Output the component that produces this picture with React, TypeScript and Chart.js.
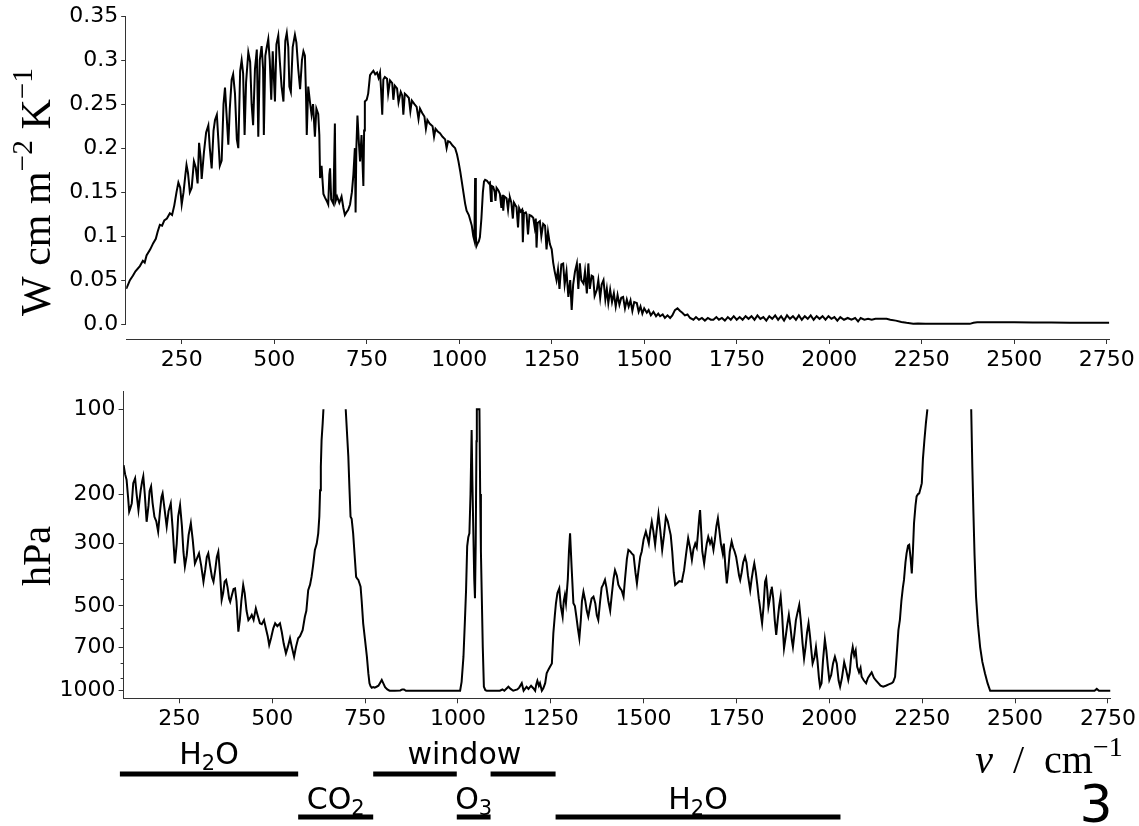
import React, { useEffect, useRef } from 'react';
import { Chart, registerables } from 'chart.js';

Chart.register(...registerables);

// ---------------- data ----------------
const X_MIN = 100;
const X_MAX = 2757;
const xTicks = [250, 500, 750, 1000, 1250, 1500, 1750, 2000, 2250, 2500, 2750];

const topYMin = -0.0169;
const topYMax = 0.35;
const topYTicks = [0, 0.05, 0.1, 0.15, 0.2, 0.25, 0.3, 0.35];
const topYTickLabels = ['0.0', '0.05', '0.1', '0.15', '0.2', '0.25', '0.3', '0.35'];

const bottomYMin = 86.6;
const bottomYMax = 1064;
const bottomYTicks = [100, 200, 300, 500, 700, 1000];
const bottomYMinorTicks = [400, 600, 800, 900];

// radiance spectrum (top panel)
const topNu = [
  100, 105, 110, 118, 125, 137, 145, 150, 155, 165, 173, 180, 185, 191, 197, 203, 210, 218, 224, 230,
  236, 241, 246, 250, 255, 260, 263, 267, 272, 277, 283, 288, 293, 297, 301, 304, 310, 316, 322, 326,
  331, 336, 340, 345, 349, 353, 358, 363, 367, 371, 376, 380, 385, 389, 394, 399, 403, 408, 412, 416,
  420, 424, 430, 435, 439, 443, 448, 453, 457, 461, 466, 470, 472, 476, 480, 484, 488, 492, 496, 502,
  506, 511, 515, 520, 525, 530, 534, 538, 541, 545, 550, 556, 560, 565, 570, 575, 579, 583, 586, 588,
  592, 596, 601, 605, 610, 614, 619, 622, 624, 628, 633, 637, 642, 646, 649, 651, 654, 660, 664, 666,
  670, 676, 682, 687, 691, 695, 700, 705, 710, 714, 718, 720, 722, 725, 729, 732, 736, 741, 743, 745,
  750, 754, 759, 764, 768, 773, 778, 782, 786, 789, 792, 795, 799, 805, 808, 813, 819, 822, 826, 832,
  836, 842, 846, 849, 853, 858, 864, 868, 872, 879, 885, 890, 894, 900, 906, 910, 914, 920, 928, 932,
  936, 942, 948, 955, 962, 966, 970, 975, 982, 989, 994, 998, 1003, 1007, 1012, 1016, 1020, 1026, 1030, 1034,
  1038, 1041, 1043, 1045, 1047, 1050, 1053, 1056, 1060, 1064, 1067, 1070, 1075, 1080, 1083, 1086, 1088, 1092, 1096, 1098,
  1101, 1106, 1110, 1114, 1117, 1119, 1122, 1128, 1132, 1135, 1137, 1141, 1145, 1148, 1152, 1155, 1159, 1162, 1166, 1170,
  1172, 1175, 1180, 1182, 1186, 1190, 1195, 1200, 1204, 1207, 1209, 1212, 1218, 1222, 1227, 1232, 1236, 1240, 1245, 1250,
  1254, 1258, 1263, 1267, 1271, 1276, 1281, 1285, 1290, 1295, 1300, 1304, 1308, 1313, 1318, 1322, 1326, 1330, 1336, 1340,
  1345, 1349, 1353, 1358, 1362, 1366, 1372, 1376, 1381, 1385, 1390, 1395, 1399, 1403, 1408, 1413, 1418, 1423, 1428, 1433,
  1438, 1443, 1448, 1453, 1458, 1463, 1468, 1473, 1480, 1485, 1490, 1495, 1500, 1507, 1512, 1518, 1525, 1532, 1538, 1543,
  1550, 1556, 1563, 1570, 1576, 1583, 1590, 1597, 1603, 1610, 1617, 1624, 1633, 1640, 1648, 1656, 1664, 1672, 1680, 1687,
  1695, 1702, 1710, 1718, 1726, 1734, 1742, 1750, 1758, 1766, 1774, 1782, 1790, 1798, 1806, 1814, 1822, 1830, 1838, 1846,
  1854, 1862, 1870, 1878, 1886, 1894, 1902, 1910, 1918, 1926, 1934, 1942, 1950, 1958, 1966, 1974, 1982, 1990, 1998, 2006,
  2014, 2022, 2030, 2040, 2050, 2060, 2070, 2078, 2085, 2095, 2105, 2115, 2125, 2140, 2155, 2165, 2180, 2195, 2209, 2227,
  2240, 2260, 2300, 2340, 2380, 2390, 2400, 2450, 2500, 2550, 2600, 2650, 2700, 2757,
];
const topRad = [
  0.040, 0.045, 0.050, 0.055, 0.060, 0.066, 0.072, 0.070, 0.078, 0.085, 0.092, 0.097, 0.105, 0.113, 0.112, 0.118, 0.120, 0.126, 0.124, 0.135,
  0.150, 0.161, 0.155, 0.136, 0.150, 0.170, 0.181, 0.172, 0.150, 0.155, 0.185, 0.178, 0.160, 0.206, 0.190, 0.165, 0.195, 0.218, 0.226, 0.200,
  0.177, 0.220, 0.232, 0.238, 0.210, 0.180, 0.186, 0.250, 0.269, 0.240, 0.204, 0.245, 0.278, 0.284, 0.262, 0.210, 0.200, 0.288, 0.300, 0.285,
  0.215, 0.275, 0.309, 0.298, 0.250, 0.226, 0.290, 0.312, 0.213, 0.300, 0.316, 0.290, 0.215, 0.305, 0.315, 0.324, 0.300, 0.255, 0.310, 0.253,
  0.318, 0.328, 0.300, 0.270, 0.253, 0.322, 0.331, 0.315, 0.270, 0.264, 0.315, 0.329, 0.320, 0.290, 0.267, 0.300, 0.310, 0.305, 0.260, 0.215,
  0.270, 0.255, 0.238, 0.250, 0.213, 0.245, 0.239, 0.215, 0.166, 0.180, 0.148, 0.144, 0.140, 0.136, 0.170, 0.177, 0.142, 0.137, 0.228, 0.140,
  0.145, 0.138, 0.145, 0.132, 0.124, 0.127, 0.130, 0.136, 0.150, 0.170, 0.200, 0.127, 0.200, 0.237, 0.205, 0.185, 0.215, 0.157, 0.220, 0.253,
  0.255, 0.262, 0.283, 0.286, 0.288, 0.284, 0.286, 0.280, 0.286, 0.265, 0.238, 0.278, 0.281, 0.279, 0.262, 0.277, 0.274, 0.255, 0.271, 0.268,
  0.252, 0.264, 0.260, 0.238, 0.262, 0.260, 0.257, 0.242, 0.254, 0.250, 0.247, 0.233, 0.245, 0.240, 0.236, 0.222, 0.232, 0.228, 0.225, 0.213,
  0.222, 0.219, 0.217, 0.213, 0.210, 0.200, 0.208, 0.207, 0.203, 0.200, 0.193, 0.185, 0.173, 0.162, 0.148, 0.137, 0.129, 0.124, 0.118, 0.112,
  0.100, 0.095, 0.166, 0.100, 0.089, 0.092, 0.094, 0.099, 0.120, 0.150, 0.162, 0.164, 0.163, 0.160, 0.161, 0.140, 0.157, 0.156, 0.150, 0.140,
  0.155, 0.152, 0.148, 0.132, 0.147, 0.129, 0.145, 0.143, 0.130, 0.142, 0.144, 0.138, 0.120, 0.138, 0.135, 0.133, 0.110, 0.132, 0.128, 0.130,
  0.093, 0.126, 0.127, 0.125, 0.102, 0.124, 0.123, 0.121, 0.110, 0.120, 0.087, 0.115, 0.117, 0.100, 0.114, 0.112, 0.085, 0.105, 0.091, 0.085,
  0.070, 0.060, 0.050, 0.062, 0.040, 0.068, 0.069, 0.045, 0.060, 0.031, 0.050, 0.016, 0.045, 0.060, 0.069, 0.040, 0.069, 0.050, 0.046, 0.060,
  0.035, 0.069, 0.040, 0.055, 0.054, 0.032, 0.039, 0.050, 0.030, 0.045, 0.050, 0.028, 0.040, 0.024, 0.039, 0.025, 0.035, 0.020, 0.033, 0.022,
  0.030, 0.031, 0.018, 0.028, 0.020, 0.027, 0.015, 0.025, 0.024, 0.014, 0.020, 0.012, 0.018, 0.013, 0.016, 0.010, 0.014, 0.009, 0.012, 0.009,
  0.011, 0.007, 0.010, 0.007, 0.010, 0.016, 0.018, 0.015, 0.013, 0.010, 0.011, 0.007, 0.005, 0.008, 0.005, 0.007, 0.004, 0.007, 0.005, 0.005,
  0.008, 0.005, 0.007, 0.004, 0.008, 0.005, 0.009, 0.005, 0.008, 0.005, 0.009, 0.006, 0.009, 0.005, 0.010, 0.006, 0.008, 0.004, 0.009, 0.006,
  0.010, 0.005, 0.009, 0.004, 0.010, 0.006, 0.009, 0.005, 0.010, 0.005, 0.009, 0.006, 0.010, 0.005, 0.009, 0.006, 0.009, 0.005, 0.009, 0.006,
  0.008, 0.004, 0.008, 0.005, 0.007, 0.005, 0.007, 0.003, 0.007, 0.005, 0.006, 0.005, 0.006, 0.006, 0.006, 0.005, 0.004, 0.0025, 0.0015, 0.0005,
  0.0008, 0.0003, 0.0003, 0.0003, 0.0003, 0.0015, 0.002, 0.002, 0.002, 0.0018, 0.0018, 0.0015, 0.0015, 0.0015,
];

// emission level (bottom panel); null = above 100 hPa (not drawn)
const bottomNu = [
  100, 104, 108, 112, 115, 118, 122, 126, 131, 135, 140, 143, 146, 150, 153, 157, 162, 167, 170, 174,
  178, 183, 188, 193, 198, 202, 205, 210, 216, 221, 227, 232, 238, 243, 247, 252, 257, 261, 265, 270,
  275, 281, 286, 292, 297, 303, 309, 315, 320, 324, 328, 333, 338, 342, 347, 351, 355, 360, 364, 368,
  372, 376, 380, 384, 387, 392, 396, 400, 404, 409, 413, 417, 422, 426, 431, 436, 441, 445, 450, 456,
  461, 467, 472, 478, 483, 488, 492, 497, 503, 508, 514, 521, 526, 531, 537, 542, 548, 553, 559, 564,
  570, 575, 582, 588, 592, 597, 602, 606, 610, 615, 620, 624, 627, 629, 631, 633, 636, 638, 640, 698,
  702, 705, 708, 711, 714, 718, 722, 726, 729, 732, 735, 738, 741, 745, 750, 755, 759, 762, 765, 768,
  772, 776, 781, 786, 790, 795, 799, 804, 810, 816, 830, 845, 850, 855, 860, 900, 950, 1000, 1006, 1010,
  1015, 1019, 1022, 1025, 1028, 1031, 1034, 1037, 1039, 1042, 1044, 1046, 1048, 1050, 1051, 1058, 1060, 1062, 1064, 1067,
  1070, 1074, 1078, 1100, 1113, 1120, 1125, 1136, 1142, 1149, 1160, 1165, 1172, 1177, 1185, 1190, 1197, 1203, 1208, 1211,
  1214, 1218, 1221, 1226, 1230, 1235, 1239, 1244, 1248, 1253, 1257, 1261, 1264, 1268, 1273, 1277, 1282, 1285, 1288, 1291,
  1296, 1299, 1302, 1306, 1311, 1315, 1319, 1323, 1327, 1331, 1334, 1338, 1343, 1347, 1351, 1356, 1360, 1365, 1370, 1374,
  1378, 1383, 1387, 1391, 1396, 1400, 1405, 1410, 1414, 1419, 1423, 1428, 1432, 1437, 1441, 1446, 1450, 1455, 1459, 1464,
  1468, 1473, 1478, 1482, 1486, 1491, 1495, 1500, 1506, 1510, 1514, 1518, 1522, 1526, 1531, 1535, 1540, 1545, 1550, 1555,
  1560, 1565, 1569, 1573, 1577, 1581, 1585, 1590, 1596, 1603, 1606, 1609, 1614, 1620, 1625, 1630, 1634, 1639, 1643, 1647,
  1650, 1652, 1655, 1658, 1663, 1667, 1670, 1674, 1679, 1683, 1688, 1692, 1696, 1700, 1704, 1708, 1713, 1716, 1720, 1724,
  1728, 1732, 1737, 1741, 1745, 1749, 1753, 1757, 1760, 1764, 1768, 1773, 1777, 1781, 1787, 1791, 1795, 1798, 1802, 1806,
  1810, 1812, 1816, 1819, 1823, 1827, 1830, 1833, 1836, 1840, 1843, 1845, 1849, 1853, 1857, 1861, 1865, 1869, 1873, 1876,
  1878, 1882, 1887, 1891, 1895, 1899, 1902, 1906, 1910, 1914, 1919, 1923, 1928, 1932, 1936, 1940, 1944, 1948, 1952, 1955,
  1960, 1964, 1968, 1972, 1975, 1979, 1983, 1988, 1992, 1996, 2000, 2005, 2010, 2015, 2020, 2025, 2029, 2034, 2040, 2045,
  2051, 2055, 2059, 2063, 2067, 2071, 2075, 2080, 2084, 2087, 2093, 2099, 2104, 2109, 2114, 2120, 2126, 2132, 2138, 2145,
  2152, 2160, 2168, 2172, 2177, 2181, 2186, 2190, 2194, 2198, 2201, 2205, 2208, 2212, 2215, 2219, 2222, 2225, 2228, 2232,
  2235, 2239, 2242, 2246, 2249, 2252, 2256, 2260, 2264, 2300, 2382, 2385, 2388, 2391, 2395, 2400, 2406, 2412, 2419, 2426,
  2433, 2500, 2600, 2700, 2714, 2720, 2726, 2757,
];
const bottomP = [
  158, 170, 178, 205, 231, 225, 216, 183, 176, 200, 228, 210, 194, 180, 173, 200, 251, 220, 195, 188,
  215, 241, 250, 272, 230, 205, 199, 225, 261, 230, 216, 265, 353, 300, 240, 219, 260, 320, 362, 330,
  280, 254, 290, 353, 340, 325, 360, 410, 370, 335, 325, 360, 395, 410, 370, 335, 321, 390, 476, 450,
  410, 404, 430, 470, 483, 455, 435, 433, 480, 617, 560, 480, 421, 450, 520, 561, 550, 538, 560, 510,
  540, 576, 580, 561, 600, 640, 688, 650, 600, 576, 590, 576, 620, 680, 736, 700, 651, 700, 757, 700,
  651, 640, 609, 546, 520, 439, 420, 394, 360, 316, 300, 276, 240, 194, 160, 129, 112, 100, null, 100,
  125, 147, 190, 241, 245, 276, 330, 394, 400, 404, 415, 427, 480, 576, 660, 757, 870, 941, 965, 976,
  970, 975, 968, 960, 940, 916, 940, 972, 990, 1000, 1000, 998, 990, 990, 1000, 1000, 1000, 1000, 1000, 930,
  757, 560, 439, 307, 285, 276, 200, 118.5, 180, 291, 400, 469, 300, 130, 100, 100, 200, 320, 439, 700,
  968, 995, 1000, 1000, 1000, 990, 1000, 968, 985, 1000, 990, 975, 940, 1000, 968, 985, 960, 980, 1000, 950,
  922, 960, 940, 1000, 980, 940, 867, 840, 822, 800, 625, 540, 489, 450, 433, 500, 546, 480, 457, 489,
  400, 320, 276, 360, 489, 500, 546, 600, 651, 560, 480, 445, 480, 520, 546, 500, 470, 463, 490, 540,
  561, 480, 430, 420, 404, 430, 480, 519, 460, 400, 373, 390, 420, 433, 440, 463, 400, 340, 316, 320,
  325, 330, 380, 416, 375, 334, 320, 290, 272, 285, 300, 270, 251, 270, 303, 270, 236, 270, 316, 280,
  241, 250, 265, 280, 320, 380, 421, 415, 408, 410, 390, 373, 330, 287, 310, 343, 315, 300, 310, 270,
  240, 228, 270, 320, 353, 320, 300, 284, 300, 290, 316, 290, 260, 244, 270, 300, 325, 300, 360, 416,
  370, 320, 295, 310, 320, 334, 360, 390, 404, 380, 350, 334, 350, 390, 439, 400, 370, 353, 380, 420,
  470, 489, 540, 576, 500, 410, 399, 440, 503, 470, 440, 427, 470, 560, 634, 560, 500, 463, 540, 640,
  707, 650, 580, 538, 590, 660, 700, 630, 561, 530, 496, 560, 680, 768, 700, 620, 576, 640, 730, 800,
  760, 700, 780, 900, 968, 940, 780, 657, 720, 820, 916, 880, 800, 757, 800, 920, 968, 900, 791, 840,
  916, 860, 750, 700, 750, 720, 822, 860, 830, 892, 920, 940, 900, 880, 860, 900, 920, 940, 960, 968,
  960, 950, 940, 930, 892, 757, 609, 560, 480, 430, 404, 350, 325, 305, 303, 340, 383, 320, 254, 220,
  204, 200, 199, 190, 183, 150, 128.6, 112, 100, null, 100, 160, 234, 330, 463, 580, 700, 790, 867, 940,
  1000, 1000, 1000, 1000, 1000, 985, 1000, 1000,
];

// absorber bands drawn under the lower panel
const bandStart = [90, 570, 772, 997, 1088, 1263];
const bandEnd = [570, 772, 997, 1088, 1263, 2030];
const bandRow = [0, 1, 0, 1, 0, 1];
const bandLabels = ['H_2O', 'CO_2', 'window', 'O_3', 'H_2O'];
const bandLabelCenter = [330, 671, 1017.5, 1042.5, 1646.5];
const bandLabelRow = [0, 1, 0, 1, 1];

// ---------------- drawing helpers ----------------
const AXIS = '#333';
const TICK_FONT = { family: 'DejaVu Sans', size: 22 };
const SERIF = '"Liberation Serif", "DejaVu Serif", serif';
const SANS = '"DejaVu Sans", sans-serif';

type Seg = { t: string; m?: 'sup' | 'sub'; it?: boolean };

function parseMarked(s: string): Seg[] {
  const out: Seg[] = [];
  let buf = '';
  for (let i = 0; i < s.length; i++) {
    if (s[i] === '_' && i + 1 < s.length) {
      if (buf) out.push({ t: buf });
      buf = '';
      out.push({ t: s[i + 1], m: 'sub' });
      i++;
    } else buf += s[i];
  }
  if (buf) out.push({ t: buf });
  return out;
}

function segFont(seg: Seg, size: number, family: string) {
  const s = seg.m ? size * 0.7 : size;
  return `${seg.it ? 'italic ' : ''}${s}px ${family}`;
}

function drawRich(
  ctx: CanvasRenderingContext2D,
  segs: Seg[],
  x: number,
  y: number,
  size: number,
  family: string,
  angle = 0,
) {
  ctx.save();
  ctx.translate(x, y);
  ctx.rotate(angle);
  ctx.textBaseline = 'alphabetic';
  ctx.textAlign = 'left';
  let w = 0;
  const widths: number[] = [];
  for (const s of segs) {
    ctx.font = segFont(s, size, family);
    const ww = ctx.measureText(s.t).width;
    widths.push(ww);
    w += ww;
  }
  let cx = -w / 2;
  segs.forEach((s, i) => {
    ctx.font = segFont(s, size, family);
    const dy = s.m === 'sup' ? -size * 0.42 : s.m === 'sub' ? size * 0.2 : 0;
    ctx.fillText(s.t, cx, dy);
    cx += widths[i];
  });
  ctx.restore();
}

function xScale(heightPx: number) {
  return {
    type: 'linear',
    min: X_MIN,
    max: X_MAX,
    afterBuildTicks: (s: any) => {
      s.ticks = xTicks.map((v) => ({ value: v }));
    },
    afterFit: (s: any) => {
      s.height = heightPx;
    },
    ticks: {
      callback: (v: any) => String(v),
      font: TICK_FONT,
      color: '#000',
      padding: 3,
      maxRotation: 0,
      autoSkip: false,
    },
    grid: { drawOnChartArea: false, drawTicks: true, tickLength: 5, tickColor: AXIS, tickWidth: 1 },
    border: { display: true, color: AXIS, width: 1 },
  };
}

const topLabel: Seg[] = [{ t: 'W cm m' }, { t: '\u22122', m: 'sup' }, { t: ' K' }, { t: '\u22121', m: 'sup' }];

const topDecor = {
  id: 'topDecor',
  afterDraw(chart: any) {
    const ctx = chart.ctx as CanvasRenderingContext2D;
    const y = chart.scales.y;
    const a = chart.chartArea;
    ctx.save();
    ctx.strokeStyle = AXIS;
    ctx.lineWidth = 1;
    const x = Math.round(a.left) - 0.5;
    ctx.beginPath();
    ctx.moveTo(x, y.getPixelForValue(topYMax));
    ctx.lineTo(x, y.getPixelForValue(0) + 0.5);
    ctx.stroke();
    ctx.fillStyle = '#000';
    drawRich(ctx, topLabel, 50, 192, 42, SERIF, -Math.PI / 2);
    ctx.restore();
  },
};

const bottomDecor = {
  id: 'bottomDecor',
  afterDraw(chart: any) {
    const ctx = chart.ctx as CanvasRenderingContext2D;
    const y = chart.scales.y;
    const xs = chart.scales.x;
    const a = chart.chartArea;
    ctx.save();
    // minor ticks
    ctx.strokeStyle = AXIS;
    ctx.lineWidth = 1;
    for (const v of bottomYMinorTicks) {
      const py = Math.round(y.getPixelForValue(v)) + 0.5;
      ctx.beginPath();
      ctx.moveTo(a.left - 3, py);
      ctx.lineTo(a.left, py);
      ctx.stroke();
    }
    ctx.fillStyle = '#000';
    // y label
    drawRich(ctx, [{ t: 'hPa' }], 50, 184, 40, SERIF, -Math.PI / 2);
    // bands
    const rowLineY = [402, 445];
    const rowTextY = [392, 437];
    ctx.fillStyle = '#000';
    for (let i = 0; i < bandStart.length; i++) {
      const x0 = xs.getPixelForValue(bandStart[i]);
      const x1 = xs.getPixelForValue(bandEnd[i]);
      ctx.fillRect(x0, rowLineY[bandRow[i]] - 2.5, x1 - x0, 5);
    }
    for (let i = 0; i < bandLabels.length; i++) {
      const cx = xs.getPixelForValue(bandLabelCenter[i]);
      drawRich(ctx, parseMarked(bandLabels[i]), cx, rowTextY[bandLabelRow[i]], 30, SANS);
    }
    // axis label
    drawRich(
      ctx,
      [{ t: '\u03bd', it: true }, { t: '\u2002/\u2002' }, { t: 'cm' }, { t: '\u22121', m: 'sup' }],
      1049,
      401,
      40,
      SERIF,
    );
    // panel number
    drawRich(ctx, [{ t: '3' }], 1096, 450, 52, SANS);
    ctx.restore();
  },
};

export default function App() {
  const topRef = useRef<HTMLCanvasElement>(null);
  const botRef = useRef<HTMLCanvasElement>(null);

  useEffect(() => {
    const topChart = new Chart(topRef.current as HTMLCanvasElement, {
      type: 'line',
      data: {
        datasets: [
          {
            data: topNu.map((x, i) => ({ x, y: topRad[i] })),
            borderColor: '#000',
            borderWidth: 2,
            pointRadius: 0,
            tension: 0,
            fill: false,
          },
        ],
      },
      options: {
        animation: false,
        responsive: false,
        devicePixelRatio: 1,
        layout: { padding: { left: 0, right: 29.7, top: 14, bottom: 0 } },
        plugins: { legend: { display: false }, tooltip: { enabled: false } },
        scales: {
          x: xScale(33) as any,
          y: {
            type: 'linear',
            min: topYMin,
            max: topYMax,
            afterBuildTicks: (s: any) => {
              s.ticks = topYTicks.map((v) => ({ value: v }));
            },
            afterFit: (s: any) => {
              s.width = 126.2;
            },
            ticks: {
              callback: (_v: any, i: number) => topYTickLabels[i],
              font: TICK_FONT,
              color: '#000',
              padding: 3,
            },
            grid: { drawOnChartArea: false, drawTicks: true, tickLength: 5, tickColor: AXIS, tickWidth: 1 },
            border: { display: false },
          },
        },
      },
      plugins: [topDecor],
    });

    const botChart = new Chart(botRef.current as HTMLCanvasElement, {
      type: 'line',
      data: {
        datasets: [
          {
            data: bottomNu.map((x, i) => ({ x, y: bottomP[i] })),
            borderColor: '#000',
            borderWidth: 2,
            pointRadius: 0,
            tension: 0,
            fill: false,
            spanGaps: false,
          },
        ],
      },
      options: {
        animation: false,
        responsive: false,
        devicePixelRatio: 1,
        layout: { padding: { left: 0, right: 28.5, top: 19.7, bottom: 94.7 } },
        plugins: { legend: { display: false }, tooltip: { enabled: false } },
        scales: {
          x: xScale(33) as any,
          y: {
            type: 'logarithmic',
            min: bottomYMin,
            max: bottomYMax,
            reverse: true,
            afterBuildTicks: (s: any) => {
              s.ticks = bottomYTicks.map((v) => ({ value: v }));
            },
            afterFit: (s: any) => {
              s.width = 123.6;
            },
            ticks: {
              callback: (_v: any, i: number) => String(bottomYTicks[i]),
              font: TICK_FONT,
              color: '#000',
              padding: 3,
              autoSkip: false,
            },
            grid: { drawOnChartArea: false, drawTicks: true, tickLength: 5, tickColor: AXIS, tickWidth: 1 },
            border: { display: true, color: AXIS, width: 1 },
          },
        },
      },
      plugins: [bottomDecor],
    });

    return () => {
      topChart.destroy();
      botChart.destroy();
    };
  }, []);

  return (
    <div style={{ position: 'absolute', left: 0, top: 0, width: 1139, height: 826, background: '#fff' }}>
      <canvas ref={topRef} width={1139} height={372} style={{ position: 'absolute', left: 0, top: 0 }} />
      <canvas ref={botRef} width={1139} height={454} style={{ position: 'absolute', left: 0, top: 372 }} />
    </div>
  );
}
